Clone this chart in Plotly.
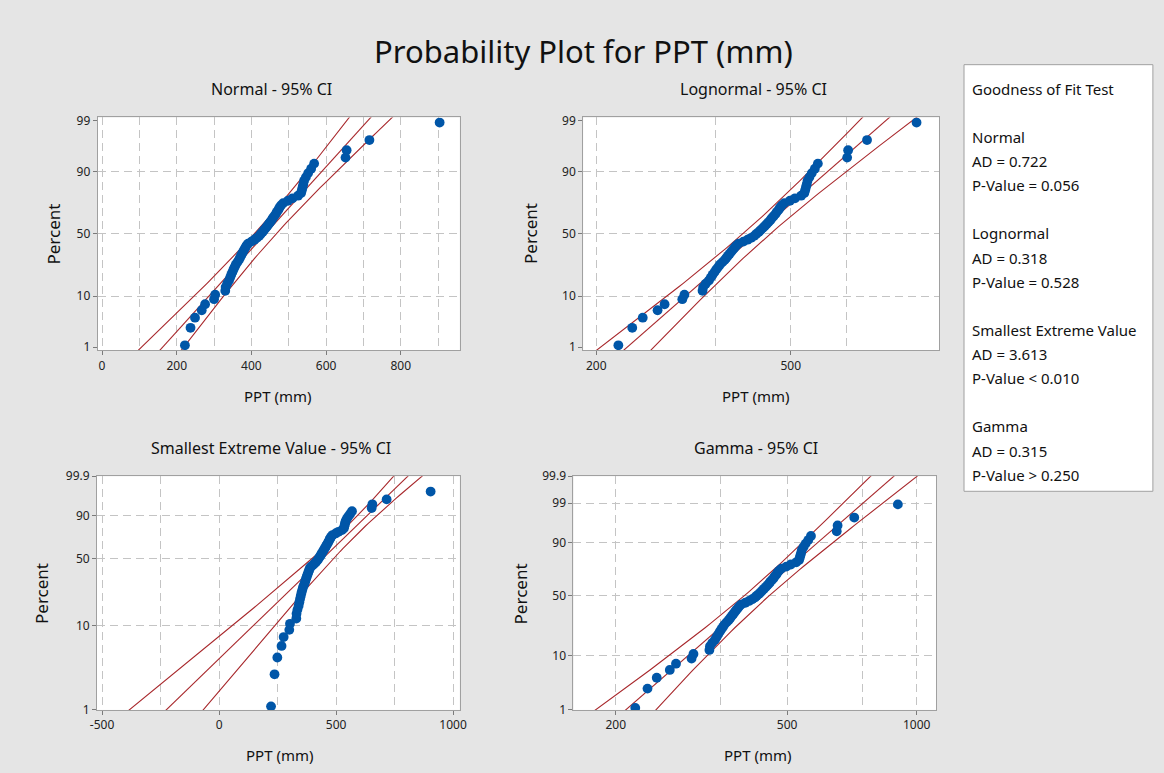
import math
import numpy as np
import plotly.graph_objects as go

# ---------------- data ----------------
PPT_MM = [222, 237, 249, 267, 276, 300, 303, 330, 331, 335,
          340, 343, 346, 349, 352, 355, 358, 362, 366, 369,
          372, 375, 378, 381, 384, 387, 391, 400, 408, 415,
          421, 425, 430, 434, 438, 442, 446, 450, 454, 457,
          461, 465, 468, 472, 475, 479, 485, 498, 510, 525,
          533, 535, 537, 539, 541, 546, 552, 560, 568, 652,
          655, 716, 904]

# fitted parameters read from the fitted (middle) lines
NORMAL_FIT = {"mu": 437.0, "sigma": 118.0}
LOGNORMAL_FIT = {"loc": 6.053, "scale": 0.2615}
SEV_FIT = {"loc": 501.0, "scale": 158.0}
GAMMA_FIT = {"shape": 14.0, "scale": 31.1}

GOF_LINES = ["Goodness of Fit Test", "",
             "Normal", "AD = 0.722", "P-Value = 0.056", "",
             "Lognormal", "AD = 0.318", "P-Value = 0.528", "",
             "Smallest Extreme Value", "AD = 3.613", "P-Value < 0.010", "",
             "Gamma", "AD = 0.315", "P-Value > 0.250"]

NORMAL_YTICKS = [1, 10, 50, 90, 99]
SEV_YTICKS = [1, 10, 50, 90, 99.9]
GAMMA_YTICKS = [1, 10, 50, 90, 99, 99.9]

# ---------------- helpers ----------------
W, H = 1164, 773
# positions are written as seen in the photographed picture; convert to page coords
SX, CX = 0.985, 8.56
SY, CY = 0.9766, 8.4
def px(x): return (x - CX) / SX / W
def py(y): return 1 - (y - CY) / SY / H

def norm_cdf(z): return 0.5 * math.erfc(-z / math.sqrt(2))

def norm_ppf(p):
    lo, hi = -12.0, 12.0
    for _ in range(100):
        mid = 0.5 * (lo + hi)
        if norm_cdf(mid) < p: lo = mid
        else: hi = mid
    return 0.5 * (lo + hi)

def gamma_p(a, x):
    if x <= 0: return 0.0
    term = 1.0 / a; s = term; n = 0
    while n < 2000:
        n += 1
        term *= x / (a + n)
        s += term
        if term < s * 1e-16: break
    return s * math.exp(-x + a * math.log(x) - math.lgamma(a))

def gamma_ppf(a, p):
    lo, hi = 0.0, a + 60 * math.sqrt(a) + 60
    for _ in range(120):
        mid = 0.5 * (lo + hi)
        if gamma_p(a, mid) < p: lo = mid
        else: hi = mid
    return 0.5 * (lo + hi)

def trigamma(x):
    r = 0.0
    while x < 6:
        r += 1 / x ** 2; x += 1
    r += 1/x + 1/(2*x**2) + 1/(6*x**3) - 1/(30*x**5) + 1/(42*x**7) - 1/(30*x**9)
    return r

def sev_w(p): return math.log(-math.log(1 - p))

x_sorted = sorted(PPT_MM)
n = len(x_sorted)
pct = [(i + 1 - 0.3) / (n + 0.4) for i in range(n)]   # median ranks
Z95 = 1.959964

BLUE = "#0056A8"
RED = "#A8282C"
GRID = "#C4C4C4"
BORDER = "#A0A0A0"
FONT = "Noto Sans"

fig = go.Figure()

def add_pts(xa, ya, xs, ys):
    fig.add_trace(go.Scatter(x=xs, y=ys, mode="markers", xaxis=xa, yaxis=ya,
                             marker=dict(color=BLUE, size=9.8), showlegend=False,
                             hoverinfo="skip"))

def add_line(xa, ya, xs, ys):
    fig.add_trace(go.Scatter(x=xs, y=ys, mode="lines", xaxis=xa, yaxis=ya,
                             line=dict(color=RED, width=1.1), showlegend=False,
                             hoverinfo="skip"))

# ---------- Normal ----------
mu, sg = NORMAL_FIT["mu"], NORMAL_FIT["sigma"]
zg = np.linspace(-2.6, 2.6, 80)
fit = mu + zg * sg
se = sg * np.sqrt((1 + zg ** 2 / 2) / n)
for arr in (fit - Z95 * se, fit, fit + Z95 * se):
    add_line("x", "y", arr, zg)
add_pts("x", "y", x_sorted, [norm_ppf(p) for p in pct])

# ---------- Lognormal ----------
lm, ls = LOGNORMAL_FIT["loc"], LOGNORMAL_FIT["scale"]
lfit = lm + zg * ls
lse = ls * np.sqrt((1 + zg ** 2 / 2) / n)
for arr in (lfit - Z95 * lse, lfit, lfit + Z95 * lse):
    add_line("x2", "y2", np.exp(arr), zg)
add_pts("x2", "y2", x_sorted, [norm_ppf(p) for p in pct])

# ---------- Smallest extreme value ----------
sl, sd = SEV_FIT["loc"], SEV_FIT["scale"]
wg = np.linspace(-4.8, 2.1, 80)
sfit = sl + wg * sd
sse = sd * np.sqrt((1.1087 - 0.5140 * wg + 0.6079 * wg ** 2) / n)
for arr in (sfit - Z95 * sse, sfit, sfit + Z95 * sse):
    add_line("x3", "y3", arr, wg)
add_pts("x3", "y3", x_sorted, [sev_w(p) for p in pct])

# ---------- Gamma ----------
k, th = GAMMA_FIT["shape"], GAMMA_FIT["scale"]
info = n * np.array([[trigamma(k), 1 / th], [1 / th, k / th ** 2]])
cov = np.linalg.inv(info)
var_lnth = cov[1, 1] / th ** 2
cov_lnth_k = cov[0, 1] / th
var_k = cov[0, 0]
pg = [norm_cdf(z) for z in np.linspace(-2.7, 3.3, 70)]
g_lo, g_mid, g_hi, g_y = [], [], [], []
h = 1e-3
for p in pg:
    q = gamma_ppf(k, p)
    dlnq = (math.log(gamma_ppf(k + h, p)) - math.log(gamma_ppf(k - h, p))) / (2 * h)
    v = var_lnth + dlnq ** 2 * var_k + 2 * dlnq * cov_lnth_k
    lx = math.log(th * q)
    g_y.append(math.log(q))
    g_mid.append(math.exp(lx))
    g_lo.append(math.exp(lx - Z95 * math.sqrt(v)))
    g_hi.append(math.exp(lx + Z95 * math.sqrt(v)))
for arr in (g_lo, g_mid, g_hi):
    add_line("x4", "y4", arr, g_y)
add_pts("x4", "y4", x_sorted, [math.log(gamma_ppf(k, p)) for p in pct])

# ---------------- axes ----------------
def fmt(v):
    return ("%g" % v)

common = dict(showline=True, mirror=True, linecolor=BORDER, linewidth=1,
              ticks="outside", ticklen=4, tickcolor="#7A7A7A", showgrid=False,
              zeroline=False, tickfont=dict(family=FONT, size=12, color="#222222"),
              tickmode="array")

def minor(vals):
    return dict(tickmode="array", tickvals=vals, showgrid=True, gridcolor=GRID,
                griddash="8px,5px", gridwidth=1, ticks="")

boxes = {
    "1": (99, 460, 116.7, 349.3),
    "2": (583, 938, 116.7, 349.3),
    "3": (98.3, 460, 475, 708.3),
    "4": (573.3, 935, 475, 708.3),
}
def dom(key):
    x0, x1, y0, y1 = boxes[key]
    return [px(x0), px(x1)], [py(y1), py(y0)]

zr = 2.394
lay = {}
# normal
d = dom("1")
lay["xaxis"] = dict(common, domain=d[0], range=[-11.5, 958], anchor="y",
                    tickvals=[0, 200, 400, 600, 800], ticktext=["0", "200", "400", "600", "800"],
                    minor=minor(list(range(0, 901, 100))))
lay["yaxis"] = dict(common, domain=d[1], range=[-zr, zr], anchor="x",
                    tickvals=[norm_ppf(v / 100) for v in NORMAL_YTICKS],
                    ticktext=[fmt(v) for v in NORMAL_YTICKS],
                    minor=minor([norm_ppf(v / 100) for v in (10, 50, 90)]))
# lognormal
d = dom("2")
lay["xaxis2"] = dict(common, domain=d[0], type="log",
                     range=[math.log10(188.1), math.log10(1006)], anchor="y2",
                     tickvals=[200, 500], ticktext=["200", "500"],
                     minor=minor([200, 350, 500, 650]))
lay["yaxis2"] = dict(common, domain=d[1], range=[-zr, zr], anchor="x2",
                     tickvals=[norm_ppf(v / 100) for v in NORMAL_YTICKS],
                     ticktext=[fmt(v) for v in NORMAL_YTICKS],
                     minor=minor([norm_ppf(v / 100) for v in (10, 50, 90)]))
# SEV
d = dom("3")
lay["xaxis3"] = dict(common, domain=d[0], range=[-521.6, 1028.7], anchor="y3",
                     tickvals=[-500, 0, 500, 1000], ticktext=["-500", "0", "500", "1000"],
                     minor=minor(list(range(-500, 1001, 250))))
lay["yaxis3"] = dict(common, domain=d[1], range=[sev_w(0.01), sev_w(0.999)], anchor="x3",
                     tickvals=[sev_w(v / 100) for v in SEV_YTICKS],
                     ticktext=[fmt(v) for v in SEV_YTICKS],
                     minor=minor([sev_w(v / 100) for v in (10, 50, 90)]))
# Gamma
d = dom("4")
lay["xaxis4"] = dict(common, domain=d[0], type="log",
                     range=[math.log10(159.5), math.log10(1110)], anchor="y4",
                     tickvals=[200, 500, 1000], ticktext=["200", "500", "1000"],
                     minor=minor([200, 350, 500, 750, 1000]))
lay["yaxis4"] = dict(common, domain=d[1],
                     range=[math.log(gamma_ppf(k, 0.01)), math.log(gamma_ppf(k, 0.999))],
                     anchor="x4",
                     tickvals=[math.log(gamma_ppf(k, v / 100)) for v in GAMMA_YTICKS],
                     ticktext=[fmt(v) for v in GAMMA_YTICKS],
                     minor=minor([math.log(gamma_ppf(k, v / 100)) for v in (10, 50, 90, 99)]))

fig.update_layout(**lay)

# ---------------- text ----------------
ann = []
def text(x, y, s, size=13, angle=0, xanchor="center", color="#111111"):
    ann.append(dict(x=px(x), y=py(y), xref="paper", yref="paper", text=s,
                    showarrow=False, textangle=angle, xanchor=xanchor, yanchor="middle",
                    font=dict(family=FONT, size=size, color=color)))

text(583, 50, "Probability Plot for PPT (mm)", size=31)
text(272, 88, "Normal - 95% CI", size=16)
text(753, 88, "Lognormal - 95% CI", size=16)
text(272, 447, "Smallest Extreme Value - 95% CI", size=16)
text(755, 447, "Gamma - 95% CI", size=16)
for xx, yy in [(278, 395), (755, 395), (280, 753), (757, 753)]:
    text(xx, yy, "PPT (mm)", size=15)
for xx, yy in [(55, 233), (531, 233), (43, 592), (520, 592)]:
    text(xx, yy, "Percent", size=17, angle=-90)

ys = 88
for line in GOF_LINES:
    if line:
        text(969, ys, line, size=15, xanchor="left")
    ys += 24.2 if line else 23.8

shapes = [
    dict(type="rect", xref="paper", yref="paper", x0=px(962.7), x1=px(1151),
         y0=py(490), y1=py(64), fillcolor="white", line=dict(color=BORDER, width=1)),
]

fig.update_layout(width=W, height=H, margin=dict(l=0, r=0, t=0, b=0),
                  paper_bgcolor="#E5E5E5", plot_bgcolor="white",
                  annotations=ann, shapes=shapes, showlegend=False)

fig.write_html("out.html", config={"displayModeBar": False},
               post_script="document.body.style.margin='0';"
                           "document.body.style.overflow='hidden';")
